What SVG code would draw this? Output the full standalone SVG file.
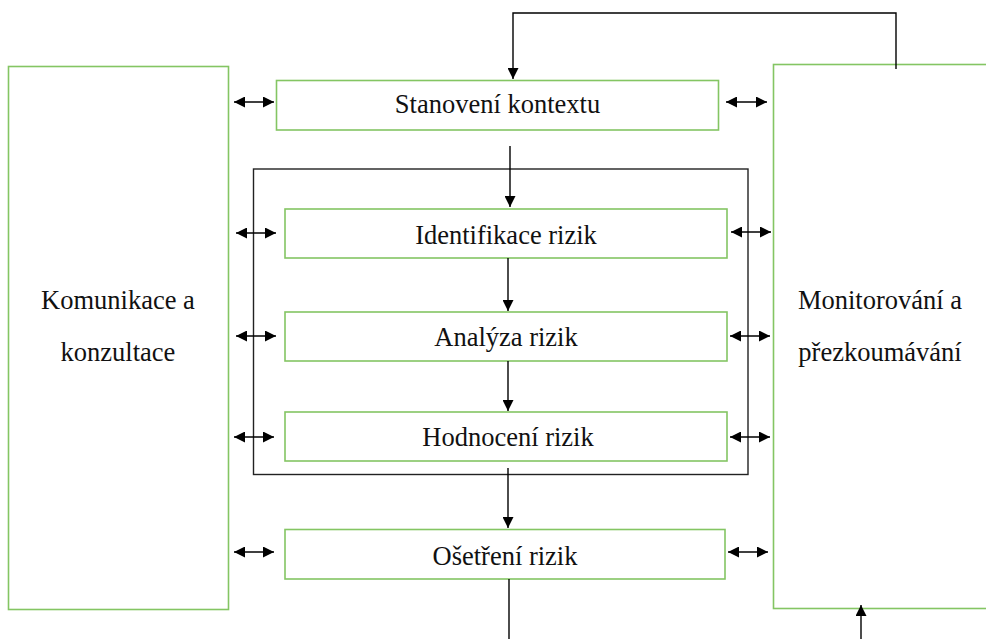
<svg xmlns="http://www.w3.org/2000/svg" width="986" height="639" viewBox="0 0 986 639">
<style>
.box{fill:#fff;stroke:#84c563;stroke-width:1.6}
.ln{fill:none;stroke:#000;stroke-width:1.4}
.frame{fill:none;stroke:#222;stroke-width:1.4}
.t{font-family:'Liberation Serif','Times New Roman',serif;font-size:26.5px;fill:#111;text-anchor:middle}
</style>
<defs>
<marker id="ah" viewBox="0 0 10 10" refX="10" refY="5" markerWidth="11" markerHeight="11" markerUnits="userSpaceOnUse" orient="auto-start-reverse">
<path d="M0,0 L10,5 L0,10 z" fill="#000"/>
</marker>
</defs>
<rect width="986" height="639" fill="#fff"/>
<g id="komunikace">
<rect class="box" x="8.5" y="66.5" width="220" height="543"/>
<text class="t" x="118" y="309">Komunikace a</text>
<text class="t" x="118" y="361">konzultace</text>
</g>
<g id="monitorovani">
<rect class="box" x="773.5" y="64.5" width="230" height="544"/>
<text class="t" x="880" y="309">Monitorování a</text>
<text class="t" x="880" y="361">přezkoumávání</text>
</g>
<g id="proces">
<rect class="frame" x="253.5" y="169" width="494.5" height="305.5"/>
</g>
<g id="stanoveni">
<rect class="box" x="276.5" y="80.5" width="442" height="49.5"/>
<text class="t" x="497.5" y="113">Stanovení kontextu</text>
</g>
<g id="identifikace">
<rect class="box" x="285" y="209" width="442" height="49"/>
<text class="t" x="506" y="244">Identifikace rizik</text>
</g>
<g id="analyza">
<rect class="box" x="285" y="312" width="442" height="49"/>
<text class="t" x="506" y="346">Analýza rizik</text>
</g>
<g id="hodnoceni">
<rect class="box" x="285" y="412" width="442" height="49"/>
<text class="t" x="508" y="446">Hodnocení rizik</text>
</g>
<g id="osetreni">
<rect class="box" x="285" y="529.5" width="440" height="49.5"/>
<text class="t" x="505" y="565">Ošetření rizik</text>
</g>
<g id="connectors">
<polyline class="ln" points="896,69 896,13 513,13 513,79" marker-end="url(#ah)"/>
<line class="ln" x1="510" y1="146" x2="510" y2="207" marker-end="url(#ah)"/>
<line class="ln" x1="508" y1="258" x2="508" y2="311" marker-end="url(#ah)"/>
<line class="ln" x1="508" y1="361" x2="508" y2="411" marker-end="url(#ah)"/>
<line class="ln" x1="508" y1="468" x2="508" y2="528" marker-end="url(#ah)"/>
<line class="ln" x1="509" y1="579" x2="509" y2="639"/>
<line class="ln" x1="861" y1="639" x2="861" y2="605" marker-end="url(#ah)"/>
<line class="ln" x1="234" y1="102" x2="274" y2="102" marker-start="url(#ah)" marker-end="url(#ah)"/>
<line class="ln" x1="726" y1="102" x2="767" y2="102" marker-start="url(#ah)" marker-end="url(#ah)"/>
<line class="ln" x1="236" y1="233" x2="276" y2="233" marker-start="url(#ah)" marker-end="url(#ah)"/>
<line class="ln" x1="731" y1="232" x2="771" y2="232" marker-start="url(#ah)" marker-end="url(#ah)"/>
<line class="ln" x1="236" y1="336" x2="276" y2="336" marker-start="url(#ah)" marker-end="url(#ah)"/>
<line class="ln" x1="730" y1="336" x2="770" y2="336" marker-start="url(#ah)" marker-end="url(#ah)"/>
<line class="ln" x1="234" y1="437" x2="274" y2="437" marker-start="url(#ah)" marker-end="url(#ah)"/>
<line class="ln" x1="730" y1="437" x2="770" y2="437" marker-start="url(#ah)" marker-end="url(#ah)"/>
<line class="ln" x1="234" y1="552" x2="274" y2="552" marker-start="url(#ah)" marker-end="url(#ah)"/>
<line class="ln" x1="728" y1="552" x2="768" y2="552" marker-start="url(#ah)" marker-end="url(#ah)"/>
</g>
</svg>
